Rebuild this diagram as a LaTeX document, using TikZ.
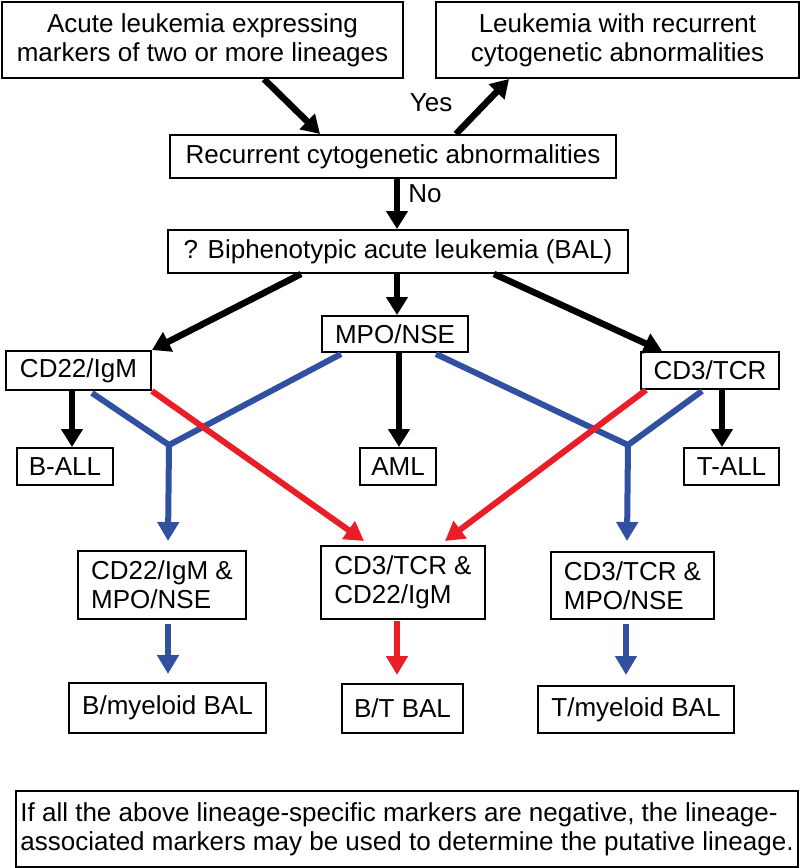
\documentclass[tikz,border=0pt]{standalone}
\usepackage{fontspec}
\setmainfont{Liberation Sans}
\usetikzlibrary{arrows.meta}
\usetikzlibrary{calc}
\definecolor{balblue}{RGB}{50,80,162}
\definecolor{balred}{RGB}{234,30,38}
\tikzset{
	% boxes and plain texts of the chart
	box/.style={draw,line width=2pt,inner sep=0pt,align=center,font=\fontsize{26}{29}\selectfont},
	tag/.style={inner sep=0pt,font=\fontsize{26}{29}\selectfont},
	% thick arrows: black, blue and red
	flow/.style={line width=6.5pt,-{Triangle[length=18pt,width=21pt]}},
	blueline/.style={draw=balblue,line width=6pt,line join=miter},
	blueflow/.style={blueline,-{Triangle[length=19pt,width=21pt]}},
	redflow/.style={draw=balred,line width=6pt,-{Triangle[length=19pt,width=21pt]}}
}

\begin{document}
\begin{tikzpicture}[x=1pt,y=-1pt]
\useasboundingbox (0,0) rectangle (800,868);

% top row
\node(acute)[box,minimum width=401,minimum height=76] at (202.5,40) {Acute leukemia expressing\\markers of two or more lineages};
\node(recur)[box,minimum width=363,minimum height=76] at (617.5,40) {Leukemia with recurrent\\cytogenetic abnormalities};
\node(cyto)[box,minimum width=446,minimum height=43] at (393,156.5) {Recurrent cytogenetic abnormalities};
\node(bal)[box,minimum width=460,minimum height=43] at (398,251.5) {? Biphenotypic acute leukemia (BAL)};

% lineage-specific markers
\node(mpo)[box,minimum width=146,minimum height=36] at (395,334) {MPO/NSE};
\node(cdb)[box,minimum width=145,minimum height=39] at (78.5,370.5) {CD22/IgM};
\node(cdt)[box,minimum width=138,minimum height=37] at (710,370.5) {CD3/TCR};
\node(ball)[box,minimum width=96,minimum height=37] at (65,466.5) {B-ALL};
\node(aml)[box,minimum width=76,minimum height=37] at (398,466.5) {AML};
\node(tall)[box,minimum width=95,minimum height=37] at (731.5,466.5) {T-ALL};

% marker pairs
\node(pbm)[box,align=left,minimum width=168,minimum height=68] at (162,585) {CD22/IgM \&\\MPO/NSE};
\node(pbt)[box,align=left,minimum width=164,minimum height=73] at (403,582.5) {CD3/TCR \&\\CD22/IgM};
\node(ptm)[box,align=left,minimum width=163,minimum height=67] at (632.5,585.5) {CD3/TCR \&\\MPO/NSE};

% BAL types
\node(bm)[box,minimum width=197,minimum height=50] at (167.5,708) {B/myeloid BAL};
\node(bt)[box,minimum width=121,minimum height=49] at (402.5,708.5) {B/T BAL};
\node(tm)[box,minimum width=196,minimum height=47] at (636,709.5) {T/myeloid BAL};

% note
\node(note)[box,align=left,minimum width=782,minimum height=76] at (407,829) {If all the above lineage-specific markers are negative, the lineage-\\associated markers may be used to determine the putative lineage.};

% junctions of the blue lines
\coordinate(jl) at (169,445);
\coordinate(jr) at (628,445);

% black arrows
\draw[flow] ($(acute.south west)+(263,0)$) -- ($(cyto.north west)+(151,0)$);
\draw[flow] ($(cyto.north west)+(287,0)$) -- ($(recur.south west)+(74,0)$) node[tag,midway,left=27pt,yshift=4]{Yes};
\draw[flow] ($(cyto.south west)+(228,0)$) -- ($(bal.north west)+(230,0)$) node[tag,pos=0.3,right=8pt]{No};
\draw[flow] ($(bal.south west)+(134,0)$) -- (cdb.north east);
\draw[flow] ($(bal.south west)+(230,0)$) -- ($(mpo.north west)+(76,0)$);
\draw[flow] ($(bal.south west)+(327,0)$) -- ($(cdt.north west)+(22,0)$);
\draw[flow] ($(cdb.south west)+(67,0)$) -- ($(ball.north west)+(56,0)$);
\draw[flow] ($(mpo.south west)+(78,0)$) -- ($(aml.north west)+(40,0)$);
\draw[flow] ($(cdt.south west)+(82,0)$) -- ($(tall.north west)+(39,0)$);

% blue lines to the myeloid pairs
\draw[blueline] ($(cdb.south west)+(87,2)$) -- (jl) -- ($(mpo.south west)+(20,1)$);
\draw[blueflow] (jl) -- ($(pbm.north west)+(91,-9)$);
\draw[blueline] ($(mpo.south west)+(115,1)$) -- (jr) -- ($(cdt.south west)+(62,1)$);
\draw[blueflow] (jr) -- ($(ptm.north west)+(77,-10)$);

% red lines to the B/T pair
\draw[redflow] (cdb.south east) -- ($(pbt.north west)+(44,-4)$);
\draw[redflow] ($(cdt.south west)+(6,0)$) -- ($(pbt.north west)+(125,-4)$);

% down to the BAL types
\draw[blueflow] ($(pbm.south west)+(91,4)$) -- ($(bm.north west)+(100,-8)$);
\draw[redflow] ($(pbt.south west)+(77,1)$) -- ($(bt.north west)+(56,-8)$);
\draw[blueflow] ($(ptm.south west)+(76,4)$) -- ($(tm.north west)+(89,-10)$);

\end{tikzpicture}
\end{document}
